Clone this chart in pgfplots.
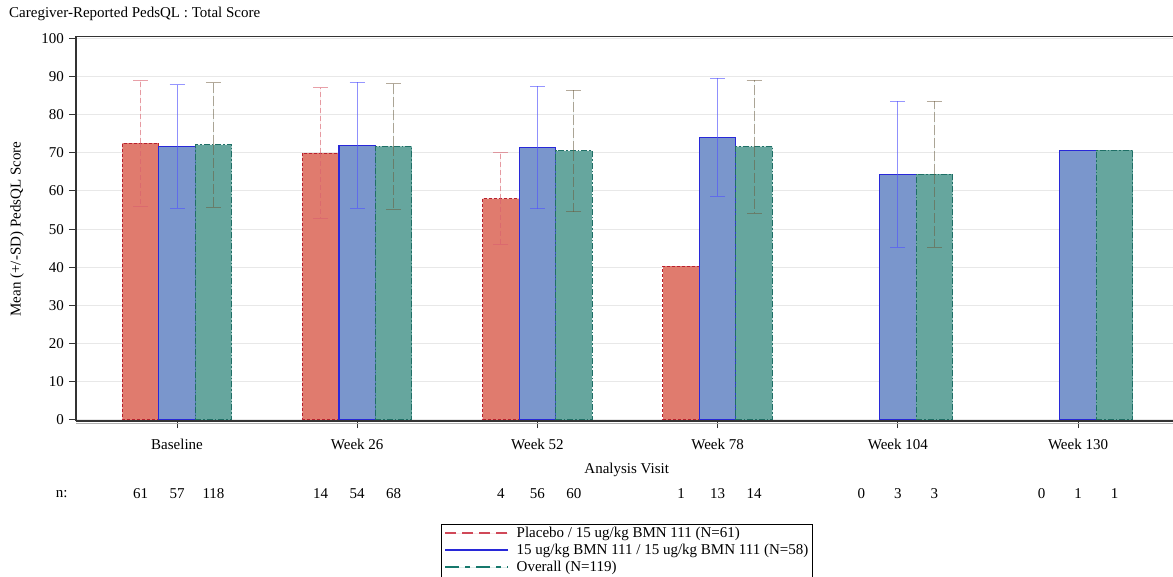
\documentclass[border=0pt]{standalone}
\usepackage{pgfplots}
\pgfplotsset{compat=1.18}
\usepackage{fontspec}
\setmainfont{Liberation Serif}
\definecolor{redfill}{HTML}{E07B6E}
\definecolor{redline}{HTML}{B8202E}
\definecolor{bluefill}{HTML}{7A96CC}
\definecolor{blueline}{HTML}{2828D8}
\definecolor{greenfill}{HTML}{66A69E}
\definecolor{greenline}{HTML}{1F6F66}
\definecolor{rederr}{HTML}{D8606E}
\definecolor{redleg}{HTML}{D04858}
\definecolor{greenleg}{HTML}{16786C}
\definecolor{blueerr}{HTML}{5050FF}
\definecolor{greenerr}{HTML}{6A5638}
\definecolor{gridc}{HTML}{E8E8E8}
\definecolor{axc}{HTML}{333333}
\begin{document}
\fontsize{15bp}{18bp}\selectfont
\begin{tikzpicture}
\useasboundingbox (0,0) rectangle (1173bp,-577bp);
\node[anchor=west, inner sep=0] at (9bp,-14bp) {Caregiver-Reported PedsQL : Total Score};
\begin{axis}[
  at={(76bp,-421bp)}, anchor=south west,
  scale only axis, width=1097bp, height=384.6bp,
  xmin=-0.5605, xmax=5.527, ymin=-0.3, ymax=100.5,
  axis x line=box, axis y line=left,
  axis line style={-, draw=axc, line width=1.3bp},
  xtick pos=bottom, ytick pos=left,
  tick align=outside, major tick length=7bp,
  tick style={draw=axc, line width=0.9bp},
  ytick={0,10,...,100},
  xtick={0,1,2,3,4,5},
  xticklabels={Baseline, Week 26, Week 52, Week 78, Week 104, Week 130},
  xticklabel style={yshift=-6bp},
  ymajorgrids, grid style={draw=gridc, line width=0.9bp},
  /pgf/number format/assume math mode=true,
  ticklabel style={font=\fontsize{15bp}{18bp}\selectfont},
  xlabel={Analysis Visit},
  ylabel={Mean (+/-SD) PedsQL Score},
  every axis x label/.style={at={(axis description cs:0.502,-0.127)}, anchor=center},
  every axis y label/.style={at={(axis description cs:-0.0538,0.499)}, rotate=90, anchor=center},
  clip=false,
  ybar, bar width=0.2025,
  legend style={at={(axis description cs:0.3327,-0.2678)}, anchor=north west,
    draw=black, line width=0.8bp, fill=white, inner xsep=3bp, inner ysep=1.5bp,
    row sep=1.3bp, nodes={inner sep=1.5bp, anchor=west},
    font=\fontsize{15bp}{18bp}\selectfont},
  legend cell align=left,
]
% Placebo
\addplot[bar shift=-0.2025, fill=redfill, draw=redline, line width=1bp, dash pattern=on 3bp off 2bp,
  legend image code/.code={\draw[color=redleg, draw opacity=1, line width=1.6bp, dash pattern=on 11bp off 6bp] (0bp,0.5bp) -- (63bp,0.5bp); \path[draw=none, fill=none] (0bp,0bp) -- (70bp,0bp);},
  error bars/.cd, y dir=both, y explicit,
  error bar style={draw=rederr, draw opacity=0.6, line width=0.9bp, dash pattern=on 5bp off 3bp},
  error mark options={rotate=90, mark size=7.5bp, draw=rederr, draw opacity=0.6, line width=0.9bp, solid}]
  coordinates {(0,72.5) +- (0,16.5) (1,69.9) +- (0,17.1) (2,58.0) +- (0,12.0)};
\addlegendentry{Placebo / 15 ug/kg BMN 111 (N=61)}
\addplot[forget plot, bar shift=-0.2025, fill=redfill, draw=redline, line width=1bp, dash pattern=on 3bp off 2bp]
  coordinates {(3,40.3)};
% BMN 111
\addplot[bar shift=0, fill=bluefill, draw=blueline, line width=1.1bp,
  legend image code/.code={\draw[color=blueline, draw opacity=1, line width=1.6bp, solid] (0bp,0.5bp) -- (63bp,0.5bp); \path[draw=none, fill=none] (0bp,0bp) -- (70bp,0bp);},
  error bars/.cd, y dir=both, y explicit,
  error bar style={draw=blueerr, draw opacity=0.6, line width=0.9bp, solid},
  error mark options={rotate=90, mark size=7.5bp, draw=blueerr, draw opacity=0.6, line width=0.9bp, solid}]
  coordinates {(0,71.6) +- (0,16.2) (1,72.0) +- (0,16.5) (2,71.4) +- (0,16.05) (3,74.1) +- (0,15.5) (4,64.4) +- (0,19.1)};
\addlegendentry{15 ug/kg BMN 111 / 15 ug/kg BMN 111 (N=58)}
\addplot[forget plot, bar shift=0, fill=bluefill, draw=blueline, line width=1.1bp]
  coordinates {(5,70.7)};
% Overall
\addplot[bar shift=0.2025, fill=greenfill, draw=greenline, line width=1bp, dash pattern=on 6bp off 2bp on 1.5bp off 2bp,
  legend image code/.code={\draw[color=greenleg, draw opacity=1, line width=1.6bp, dash pattern=on 14bp off 6bp on 5bp off 6bp] (0bp,0.5bp) -- (63bp,0.5bp); \path[draw=none, fill=none] (0bp,0bp) -- (70bp,0bp);},
  error bars/.cd, y dir=both, y explicit,
  error bar style={draw=greenerr, draw opacity=0.5, line width=0.9bp, dash pattern=on 10bp off 3bp},
  error mark options={rotate=90, mark size=7.5bp, draw=greenerr, draw opacity=0.5, line width=0.9bp, solid}]
  coordinates {(0,72.05) +- (0,16.35) (1,71.65) +- (0,16.55) (2,70.5) +- (0,15.95) (3,71.6) +- (0,17.4) (4,64.4) +- (0,19.1)};
\addlegendentry{Overall (N=119)}
\addplot[forget plot, bar shift=0.2025, fill=greenfill, draw=greenline, line width=1bp, dash pattern=on 6bp off 2bp on 1.5bp off 2bp]
  coordinates {(5,70.7)};
% second bottom line
\draw[gray!60, line width=1.6bp] ([yshift=-2.4bp]rel axis cs:0,0) -- ([yshift=-2.4bp]rel axis cs:1,0);
% n row
\node[anchor=center] at (axis cs:-0.64,-19.4) {n:};
\node at (axis cs:-0.2025,-19.4) {61};
\node at (axis cs:0,-19.4) {57};
\node at (axis cs:0.2025,-19.4) {118};
\node at (axis cs:0.7975,-19.4) {14};
\node at (axis cs:1,-19.4) {54};
\node at (axis cs:1.2025,-19.4) {68};
\node at (axis cs:1.7975,-19.4) {4};
\node at (axis cs:2,-19.4) {56};
\node at (axis cs:2.2025,-19.4) {60};
\node at (axis cs:2.7975,-19.4) {1};
\node at (axis cs:3,-19.4) {13};
\node at (axis cs:3.2025,-19.4) {14};
\node at (axis cs:3.7975,-19.4) {0};
\node at (axis cs:4,-19.4) {3};
\node at (axis cs:4.2025,-19.4) {3};
\node at (axis cs:4.7975,-19.4) {0};
\node at (axis cs:5,-19.4) {1};
\node at (axis cs:5.2025,-19.4) {1};
\end{axis}
\end{tikzpicture}
\end{document}
